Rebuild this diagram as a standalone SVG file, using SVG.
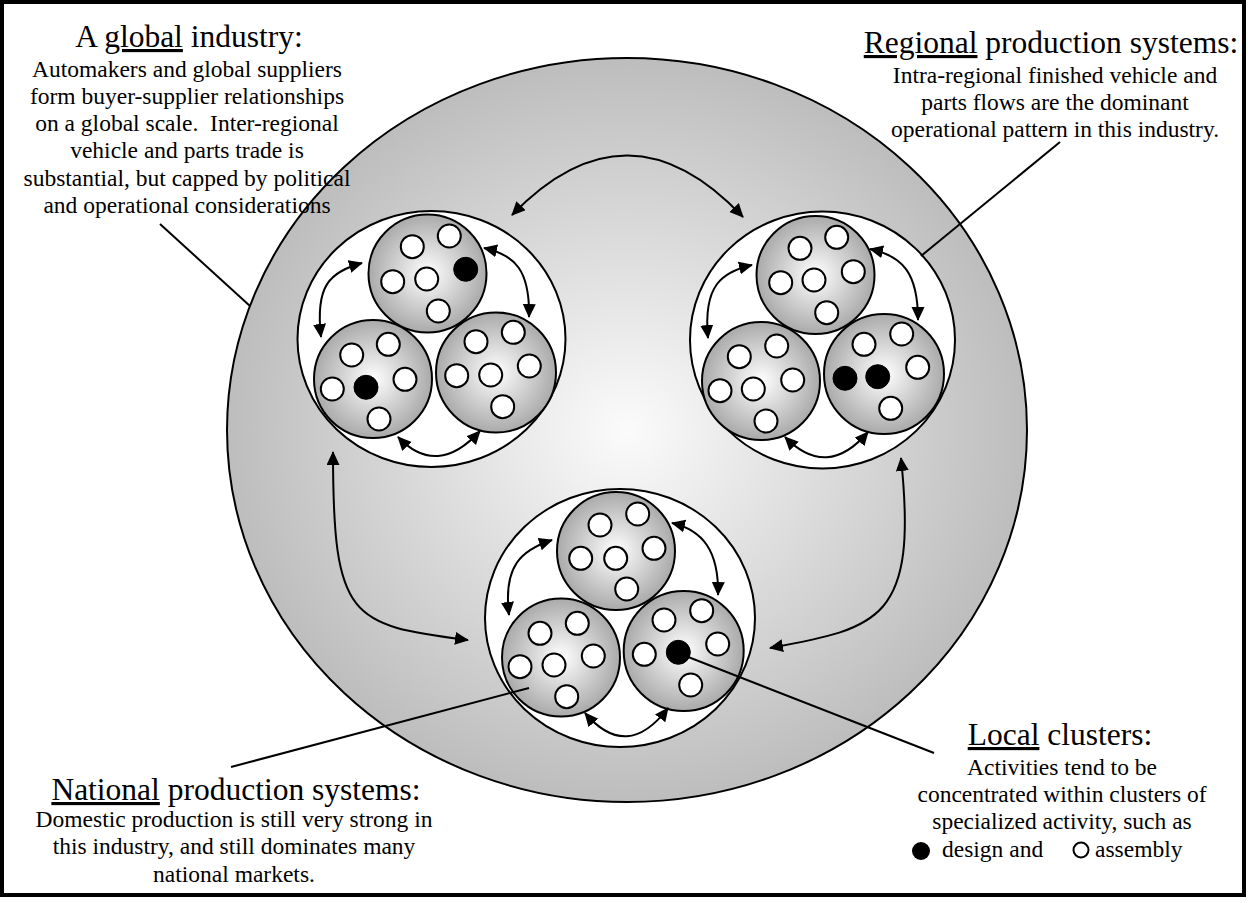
<svg xmlns="http://www.w3.org/2000/svg" width="1248" height="903" viewBox="0 0 1248 903">
<defs>
<radialGradient id="bigGrad" cx="50%" cy="50%" r="50%">
<stop offset="0" stop-color="#fbfbfb"/>
<stop offset="1" stop-color="#bdbdbd"/>
</radialGradient>
<radialGradient id="subGrad" cx="50%" cy="50%" r="50%">
<stop offset="0" stop-color="#ffffff"/>
<stop offset="1" stop-color="#aaaaaa"/>
</radialGradient>
<marker id="ah" markerUnits="userSpaceOnUse" markerWidth="16" markerHeight="14" refX="13" refY="6.5" orient="auto-start-reverse">
<path d="M0,0 L14,6.5 L0,13 z" fill="#000"/>
</marker>
<style>
.t{font-family:"Liberation Serif","Times New Roman",serif;fill:#000;text-anchor:middle}
.h{font-size:31.5px}
.b{font-size:23.5px}
.u{text-decoration:underline}
.reg{fill:#fff;stroke:#000;stroke-width:2}
.sub{fill:url(#subGrad);stroke:#000;stroke-width:2}
.a{fill:#fff;stroke:#000;stroke-width:2}
.d{fill:#000;stroke:#000;stroke-width:1}
.c{fill:none;stroke:#000;stroke-width:2;marker-start:url(#ah);marker-end:url(#ah)}
.l{fill:none;stroke:#000;stroke-width:2}
</style>
</defs>
<rect x="0" y="0" width="1248" height="903" fill="#fff"/>
<rect x="2" y="2" width="1242" height="893" fill="none" stroke="#000" stroke-width="4"/>

<g id="global-industry">
<ellipse cx="627" cy="430" rx="400" ry="372" fill="url(#bigGrad)" stroke="#000" stroke-width="2"/>
</g>

<g id="region-top-left">
<ellipse class="reg" cx="431.5" cy="339" rx="134" ry="128"/>
<circle class="sub" cx="427.5" cy="273.5" r="59"/>
<circle class="sub" cx="373" cy="379" r="59"/>
<circle class="sub" cx="496" cy="372.5" r="60"/>
<circle class="a" cx="412.3" cy="246.7" r="11.5"/>
<circle class="a" cx="449.3" cy="236" r="11.5"/>
<circle class="a" cx="392.7" cy="281.7" r="11.5"/>
<circle class="a" cx="426.7" cy="279" r="11.5"/>
<circle class="d" cx="465.7" cy="269.3" r="12"/>
<circle class="a" cx="438.3" cy="311" r="11.5"/>
<circle class="a" cx="351.7" cy="355" r="11.5"/>
<circle class="a" cx="388.3" cy="344.3" r="11.5"/>
<circle class="a" cx="332.3" cy="389" r="11.5"/>
<circle class="d" cx="366" cy="387.3" r="12"/>
<circle class="a" cx="405" cy="379.3" r="11.5"/>
<circle class="a" cx="379" cy="419" r="11.5"/>
<circle class="a" cx="476" cy="341.7" r="11.5"/>
<circle class="a" cx="513.3" cy="332.3" r="11.5"/>
<circle class="a" cx="456.7" cy="375.7" r="11.5"/>
<circle class="a" cx="490.7" cy="375" r="11.5"/>
<circle class="a" cx="529.3" cy="366" r="11.5"/>
<circle class="a" cx="502.7" cy="406.7" r="11.5"/>
</g>

<g id="region-top-right">
<ellipse class="reg" cx="822.5" cy="340" rx="132.5" ry="128.5"/>
<circle class="sub" cx="815.5" cy="275" r="59"/>
<circle class="sub" cx="761" cy="381" r="59"/>
<circle class="sub" cx="884" cy="374" r="60"/>
<circle class="a" cx="800" cy="248.3" r="11.5"/>
<circle class="a" cx="836.7" cy="237.3" r="11.5"/>
<circle class="a" cx="780.7" cy="282.7" r="11.5"/>
<circle class="a" cx="814" cy="280" r="11.5"/>
<circle class="a" cx="853.3" cy="271.7" r="11.5"/>
<circle class="a" cx="826.7" cy="312.7" r="11.5"/>
<circle class="a" cx="739.3" cy="356.7" r="11.5"/>
<circle class="a" cx="776.7" cy="346" r="11.5"/>
<circle class="a" cx="720" cy="390.7" r="11.5"/>
<circle class="a" cx="753.3" cy="389" r="11.5"/>
<circle class="a" cx="792.7" cy="380" r="11.5"/>
<circle class="a" cx="766" cy="421" r="11.5"/>
<circle class="a" cx="864" cy="344.3" r="11.5"/>
<circle class="a" cx="901.7" cy="334" r="11.5"/>
<circle class="d" cx="845" cy="378.3" r="12"/>
<circle class="d" cx="877.7" cy="376.7" r="12"/>
<circle class="a" cx="917.7" cy="367.3" r="11.5"/>
<circle class="a" cx="890.7" cy="408.3" r="11.5"/>
</g>

<g id="region-bottom">
<ellipse class="reg" cx="620" cy="618" rx="135" ry="129"/>
<circle class="sub" cx="616" cy="551" r="59"/>
<circle class="sub" cx="561" cy="657.5" r="59"/>
<circle class="sub" cx="683.7" cy="651" r="60"/>
<circle class="a" cx="600" cy="525" r="11.5"/>
<circle class="a" cx="637.7" cy="514" r="11.5"/>
<circle class="a" cx="580.7" cy="558.3" r="11.5"/>
<circle class="a" cx="615.7" cy="558.3" r="11.5"/>
<circle class="a" cx="654" cy="548.3" r="11.5"/>
<circle class="a" cx="626.7" cy="589" r="11.5"/>
<circle class="a" cx="540" cy="633.3" r="11.5"/>
<circle class="a" cx="577.3" cy="623.3" r="11.5"/>
<circle class="a" cx="520" cy="666.7" r="11.5"/>
<circle class="a" cx="554" cy="665" r="11.5"/>
<circle class="a" cx="593.3" cy="656" r="11.5"/>
<circle class="a" cx="566.7" cy="696.7" r="11.5"/>
<circle class="a" cx="664" cy="620" r="11.5"/>
<circle class="a" cx="701.7" cy="610.7" r="11.5"/>
<circle class="a" cx="644.3" cy="654.3" r="11.5"/>
<circle class="d" cx="678.3" cy="652.3" r="12"/>
<circle class="a" cx="717.7" cy="644" r="11.5"/>
<circle class="a" cx="690.7" cy="685" r="11.5"/>
</g>

<g id="leaders">
<line class="l" x1="160" y1="224" x2="250" y2="306"/>
<line class="l" x1="1060" y1="142" x2="921" y2="256"/>
<line class="l" x1="231" y1="767" x2="529" y2="688"/>
<line class="l" x1="678" y1="653" x2="934" y2="753"/>
</g>

<g id="connectors">
<path class="c" d="M362,263 C330,272 315,285 321,337"/>
<path class="c" d="M484,248 C515,255 530,270 529,317"/>
<path class="c" d="M398,437 Q437,478 480,431"/>
<path class="c" d="M752,265 C722,272 703,285 708,338"/>
<path class="c" d="M870,249 C902,256 918,272 918,320"/>
<path class="c" d="M785,437 Q827,480 868,432"/>
<path class="c" d="M552,540 C522,550 503,565 509,615"/>
<path class="c" d="M672,523 C702,530 719,550 718,595"/>
<path class="c" d="M585,713 Q627,762 668,708"/>
<path class="c" d="M512,215 Q628,95 743,217"/>
<path class="c" d="M333,452 C333,620 350,625 468,640"/>
<path class="c" d="M901,458 C918,620 880,628 770,648"/>
</g>

<g id="label-global">
<text class="t h" x="189" y="47">A <tspan class="u">global</tspan> industry:</text>
<text class="t b" x="187" y="77">Automakers and global suppliers</text>
<text class="t b" x="187" y="104">form buyer-supplier relationships</text>
<text class="t b" x="187" y="131">on a global scale.&#160; Inter-regional</text>
<text class="t b" x="187" y="158">vehicle and parts trade is</text>
<text class="t b" x="187" y="186">substantial, but capped by political</text>
<text class="t b" x="187" y="213">and operational considerations</text>
</g>

<g id="label-regional">
<text class="t h" x="1051" y="53"><tspan class="u">Regional</tspan> production systems:</text>
<text class="t b" x="1055" y="83">Intra-regional finished vehicle and</text>
<text class="t b" x="1055" y="110">parts flows are the dominant</text>
<text class="t b" x="1055" y="137">operational pattern in this industry.</text>
</g>

<g id="label-national">
<text class="t h" x="236" y="800"><tspan class="u">National</tspan> production systems:</text>
<text class="t b" x="234" y="827">Domestic production is still very strong in</text>
<text class="t b" x="234" y="854">this industry, and still dominates many</text>
<text class="t b" x="234" y="882">national markets.</text>
</g>

<g id="label-local">
<text class="t h" x="1060" y="745"><tspan class="u">Local</tspan> clusters:</text>
<text class="t b" x="1062" y="775">Activities tend to be</text>
<text class="t b" x="1062" y="802">concentrated within clusters of</text>
<text class="t b" x="1062" y="829">specialized activity, such as</text>
<circle cx="921" cy="851" r="9" fill="#000"/>
<text class="t b" x="942" y="857" style="text-anchor:start">design and</text>
<circle cx="1081" cy="850" r="7.5" fill="#fff" stroke="#000" stroke-width="2"/>
<text class="t b" x="1095" y="857" style="text-anchor:start">assembly</text>
</g>
</svg>
